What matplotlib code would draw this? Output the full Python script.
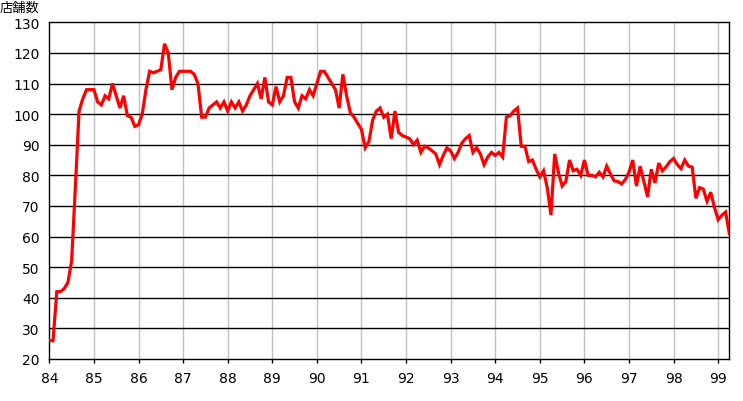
import numpy as np
import matplotlib
matplotlib.use('Agg')
import matplotlib.pyplot as plt

# 店舗数 (monthly, Jan 1984 - Apr 1999)
tenpo = [
    26, 26, 42, 42, 43, 45, 52, 76, 101, 105, 108, 108,          # 84
    108, 104, 103, 106, 105, 110, 106, 102, 106, 99.5, 99, 96,   # 85
    96.5, 100, 108, 114, 113.5, 114, 114.5, 123, 120, 108, 112, 114,  # 86
    114, 114, 114, 113, 110, 99, 99, 102, 103, 104, 102, 104,    # 87
    101, 104, 102, 104, 101, 103, 106, 108, 110, 105, 112, 104,  # 88
    103, 109, 104, 106, 112, 112, 104, 102, 106, 105, 108, 106,  # 89
    110, 114, 114, 112, 110, 108, 102, 113, 106, 100.5, 99, 97,  # 90
    95, 89, 91, 98, 101, 102, 99, 100, 92, 101, 94, 93,          # 91
    92.5, 92, 90, 91.5, 87.5, 89.5, 89, 88, 87, 83.5, 86.5, 89,  # 92
    88, 85.5, 87.5, 90.5, 92, 93, 87.5, 89, 87, 83.5, 86, 87.5,  # 93
    86.5, 87.5, 86, 99, 99.5, 101, 102, 89.5, 89.5, 84.5, 85, 82,  # 94
    79.5, 81.5, 76, 67, 87, 81, 76.5, 78, 85, 81.5, 82, 80,      # 95
    85, 80, 80, 79.5, 81, 79.5, 83, 80.5, 78.2, 78, 77.2, 78.6,  # 96
    81, 85, 76.5, 83, 78, 73, 82, 77.5, 84, 81.5, 82.8, 84.5,    # 97
    85.5, 83.5, 82.2, 85, 83, 82.7, 72.5, 76, 75.5, 71.5, 74.5, 69.5,  # 98
    65.5, 67, 68, 61,                                            # 99
]
anni = np.arange(84, 100)
anno_label = [str(a) for a in anni]

t = 84 + np.arange(len(tenpo)) / 12

fig = plt.figure(figsize=(7.43, 4.02), dpi=100)
ax = fig.add_axes([0.0664, 0.1045, 0.9152, 0.8375])

for y in range(30, 130, 10):
    ax.axhline(y, color='black', lw=1.0, zorder=1)
for a in anni[1:]:
    ax.axvline(a, color='#c0c0c0', lw=1.0, zorder=0)

ax.plot(t, tenpo, color='#ff0000', lw=2.3, zorder=3, solid_joinstyle='miter')

ax.set_xlim(84, 99.25)
ax.set_ylim(20, 130)
ax.set_xticks(anni)
ax.set_xticklabels(anno_label)
ax.set_yticks(range(20, 131, 10))
ax.tick_params(axis='x', length=3, width=1, pad=6, labelsize=10, color='black')
ax.tick_params(axis='y', length=0, pad=7, labelsize=10)
for s in ax.spines.values():
    s.set_color('black')
    s.set_linewidth(1.0)

fig.text(0.0, 0.995, '店舗数', ha='left', va='top', fontsize=9.5,
         family=['Noto Sans CJK JP', 'DejaVu Sans'])

fig.savefig('out.png', dpi=100)
